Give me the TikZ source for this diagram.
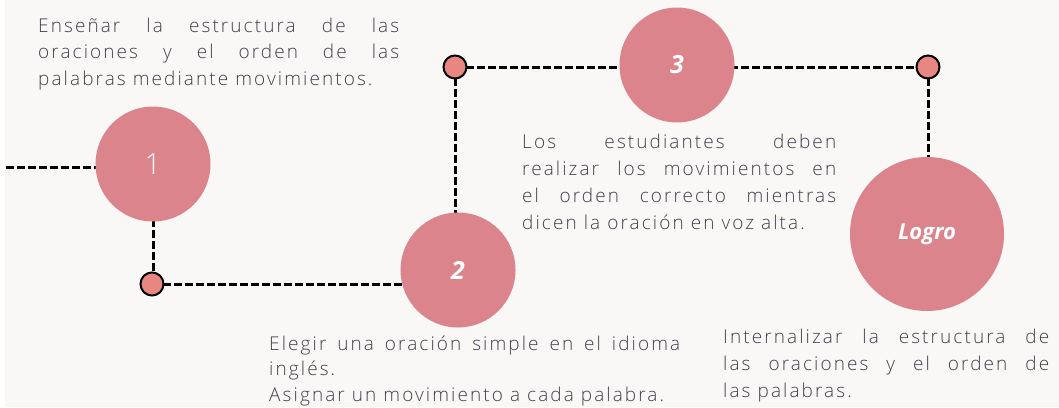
\documentclass[tikz,border=0pt]{standalone}
\usepackage{fontspec}
\setmainfont{Open Sans}
\IfFontExistsTF{Open Sans Light}{%
  \newfontfamily\bodyfont{Open Sans Light}[LetterSpace=11]%
  \newfontfamily\lightfont{Open Sans Light}}{%
  \newfontfamily\bodyfont{Open Sans}[LetterSpace=11]%
  \newfontfamily\lightfont{Open Sans}}
\definecolor{bgc}{RGB}{249,248,246}
\definecolor{pinkc}{RGB}{219,132,139}
\definecolor{dotc}{RGB}{232,134,130}
\definecolor{txtc}{RGB}{66,66,78}
\pgfdeclarelayer{lines}
\pgfsetlayers{lines,main}
\newcommand\jline[2]{\hbox{\makebox[#1][s]{#2}}}
\newcommand\nline[1]{\hbox{#1}}
\begin{document}
\begin{tikzpicture}[x=1pt,y=-1pt,
  bigdot/.style={circle, fill=pinkc, draw=none, minimum size=115pt, inner sep=0pt, text=white},
  smalldot/.style={circle, fill=dotc, draw=black, line width=2pt, minimum size=23pt, inner sep=0pt},
  conn/.style={line width=3pt, dash pattern=on 8pt off 3pt, draw=black},
  txt/.style={inner sep=0pt, anchor=base west, text=txtc, font=\bodyfont\fontsize{19}{26}\selectfont},
  numlight/.style={font=\lightfont\fontsize{29}{30}\selectfont},
  numbold/.style={font=\bfseries\itshape\fontsize{25}{26}\selectfont}]
\useasboundingbox (0,0) rectangle (1059,407);
\begin{pgfonlayer}{lines}
\fill[white] (0,0) rectangle (1059,407);
\fill[bgc] (5,0) rectangle (1059,407);
\end{pgfonlayer}

\node[bigdot, numlight] (c1) at (153,164) {1};
\node[bigdot, numbold] (c2) at (458,270) {2};
\node[bigdot, numbold] (c3) at (677,65) {3};
\node[bigdot, minimum size=154pt, font=\bfseries\itshape\fontsize{22}{24}\selectfont] (c4) at (927,234) {Logro};

\node[smalldot] (d1) at (152,284) {};
\node[smalldot] (d2) at (455,67) {};
\node[smalldot] (d3) at (928,67) {};

\coordinate (s) at (6,167);

\begin{pgfonlayer}{lines}
\draw[conn] (s) -- (s -| c1.center);
\draw[conn] (c1.center) -- (c1.center |- d1.center);
\draw[conn] (d1.center) -- (d1.center -| c2.center);
\draw[conn] (d2.center) -- (d2.center |- c2.center);
\draw[conn] (d2.center) -- (d3.center);
\draw[conn] (d3.center) -- (d3.center |- c4.center);
\end{pgfonlayer}

\node[txt] (t1) at (38,32) {\vtop{\baselineskip=26.5pt
  \jline{361pt}{Enseñar la estructura de las}
  \jline{361pt}{oraciones y el orden de las}
  \nline{palabras mediante movimientos.}}};

\node[txt] (t3) at (522,148) {\vtop{\baselineskip=27pt
  \jline{314pt}{Los estudiantes deben}
  \jline{314pt}{realizar los movimientos en}
  \jline{314pt}{el orden correcto mientras}
  \nline{dicen la oración en voz alta.}}};

\node[txt] (t2) at (269,350) {\vtop{\baselineskip=25.7pt
  \jline{411pt}{Elegir una oración simple en el idioma}
  \nline{inglés.}
  \nline{Asignar un movimiento a cada palabra.}}};

\node[txt] (t4) at (723,343) {\vtop{\baselineskip=27pt
  \jline{326pt}{Internalizar la estructura de}
  \jline{326pt}{las oraciones y el orden de}
  \nline{las palabras.}}};
\end{tikzpicture}
\end{document}
